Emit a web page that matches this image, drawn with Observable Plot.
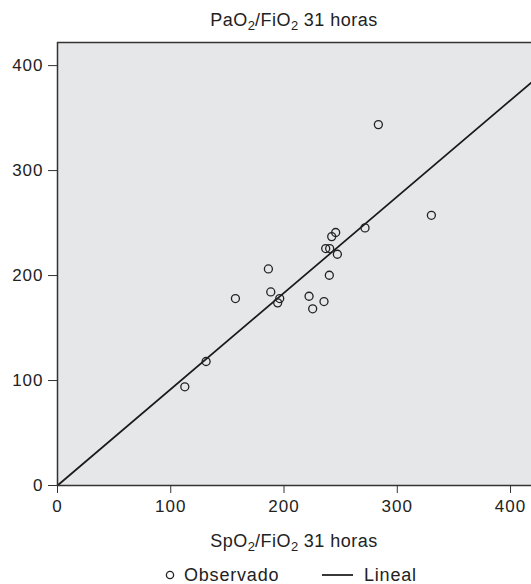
<!DOCTYPE html>
<html><head><meta charset="utf-8">
<script src="https://cdn.jsdelivr.net/npm/d3@7"></script>
<script src="https://cdn.jsdelivr.net/npm/@observablehq/plot@0.6"></script>
<style>
body{margin:0;background:#fff;font-family:"Liberation Sans",Arial,sans-serif;color:#222}
#wrap{position:relative;width:531px;height:584px;overflow:hidden;background:#fff}
#chart{position:absolute;left:0;top:0}
.lbl{position:absolute;left:57px;width:474px;text-align:center;font-size:18px;letter-spacing:0.5px;white-space:nowrap;line-height:21px}
sub{font-size:0.72em;vertical-align:-0.3em;line-height:0;letter-spacing:0}
.leg{position:absolute;font-size:18px;letter-spacing:0.8px;white-space:nowrap;line-height:21px}
</style></head><body>
<div id="wrap">
  <div id="chart"></div>
  <div class="lbl" style="top:10px">PaO<sub>2</sub>/FiO<sub>2</sub> 31 horas</div>
  <div class="lbl" style="top:531px">SpO<sub>2</sub>/FiO<sub>2</sub> 31 horas</div>
  <svg style="position:absolute;left:160px;top:565px" width="200" height="20">
    <circle cx="10" cy="10" r="3.6" fill="none" stroke="#222" stroke-width="1.3"></circle>
    <line x1="162" x2="193" y1="10" y2="10" stroke="#222" stroke-width="1.8"></line>
  </svg>
  <div class="leg" style="left:184px;top:565px">Observado</div>
  <div class="leg" style="left:364px;top:565px">Lineal</div>
</div>
<script>
// Observed points: SpO2/FiO2 (x) vs PaO2/FiO2 (y) at 31 hours
const spo2fio2 = [283.3, 330.1, 271.5, 245.6, 242.1, 236.8, 240.3, 247.1, 240.0, 186.2, 188.3, 196.2, 194.4, 157.1, 222.1, 235.3, 225.3, 131.2, 112.4];
const pao2fio2 = [343.8, 257.4, 245.4, 241.0, 237.1, 225.7, 225.7, 220.3, 200.3, 206.3, 184.4, 178.1, 174.0, 178.1, 180.3, 175.2, 168.3, 118.1, 94.0];
// Linear fit line endpoints (data values)
const fitX = [0, 418.5];
const fitY = [0, 384];
const xTicks = [0, 100, 200, 300, 400];
const yTicks = [0, 100, 200, 300, 400];

const points = spo2fio2.map((x, i) => ({x, y: pao2fio2[i]}));
const fit = fitX.map((x, i) => ({x, y: fitY[i]}));

const chart = Plot.plot({
  width: 531,
  height: 584,
  marginLeft: 57,
  marginRight: 0,
  marginTop: 42,
  marginBottom: 99,
  style: {fontFamily: "Liberation Sans, Arial, sans-serif", fontSize: "17px", color: "#222", background: "#fff", letterSpacing: "1px"},
  x: {domain: [0, 418.5]},
  y: {domain: [0, 422]},
  marks: [
    Plot.frame({fill: "#e6e7e9", stroke: null}),
    Plot.line(fit, {x: "x", y: "y", stroke: "#1a1a1a", strokeWidth: 1.7}),
    Plot.dot(points, {x: "x", y: "y", r: 4, stroke: "#222", strokeWidth: 1.3, fill: "none"}),
    Plot.ruleX([0], {stroke: "#333", strokeWidth: 1.5}),
    Plot.ruleY([0], {stroke: "#333", strokeWidth: 1.5}),
    Plot.ruleY([422], {stroke: "#333", strokeWidth: 1.5}),
    Plot.axisX({ticks: xTicks, tickSize: 8, tickPadding: 6, label: null, stroke: "#333"}),
    Plot.axisY({ticks: yTicks, tickSize: 9, tickPadding: 5, label: null, stroke: "#333"})
  ]
});
document.getElementById("chart").appendChild(chart);
</script>
</body></html>
